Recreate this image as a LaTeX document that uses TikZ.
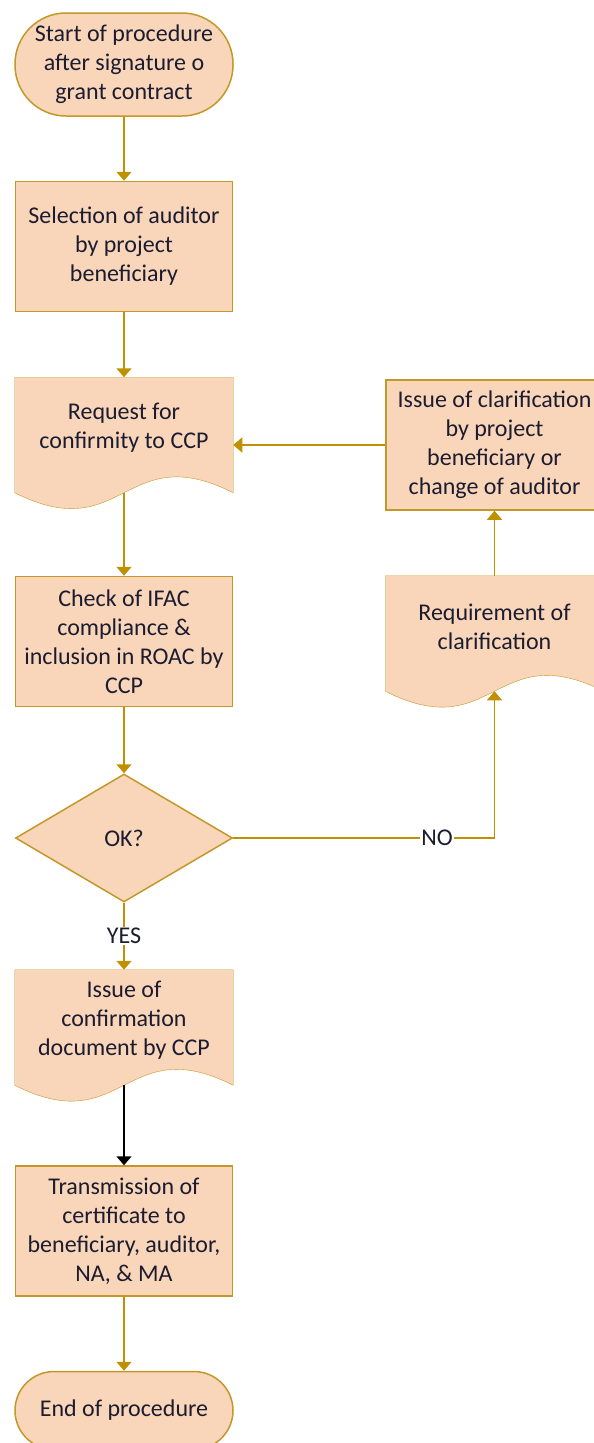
\documentclass[tikz,border=0pt]{standalone}
\usepackage{fontspec}
\setmainfont{Carlito}
\usetikzlibrary{positioning,shapes.geometric,arrows.meta,calc,backgrounds}

\definecolor{boxfill}{RGB}{249,214,186}
\definecolor{boxline}{RGB}{196,152,40}
\definecolor{flowline}{RGB}{191,144,0}
\definecolor{boxtext}{RGB}{28,28,48}

% document shape drawn behind a text node, wavy bottom edge
\newcommand{\docshape}[1]{%
	\begin{scope}[on background layer]
	\path[docline] (#1.north west) -- (#1.north east) -- ($(#1.south east)+(0,-14)$)
		.. controls ($(#1.south)+(0,41)$) and ($(#1.south)+(0,-69)$) .. ($(#1.south west)+(0,-14)$) -- cycle;
	\end{scope}
	\coordinate (#1-b) at ($(#1.south)+(0,-14)$);%
}

\begin{document}
\begin{tikzpicture}[%
	x=1pt, y=1pt,
	every text node part/.style={align=center},
	font=\fontsize{24}{29}\selectfont,
	line width=1.5pt,
	>={Triangle[width=15pt,length=9pt]},
	term/.style={%
		rectangle,
		fill=boxfill,
		draw=boxline,
		minimum width=218pt,
		text=boxtext,
		inner sep=0pt
	},
	proc/.style={%
		rectangle,
		fill=boxfill,
		draw=boxline,
		minimum width=217pt,
		minimum height=130pt,
		text=boxtext,
		inner sep=0pt
	},
	doc/.style={%
		rectangle,
		minimum width=217pt,
		minimum height=100pt,
		text=boxtext,
		inner sep=0pt
	},
	docline/.style={%
		fill=boxfill,
		draw=boxline
	},
	dec/.style={%
		diamond,
		fill=boxfill,
		draw=boxline,
		minimum width=217pt,
		minimum height=128pt,
		text=boxtext,
		inner sep=0pt
	},
	flow/.style={->, draw=flowline},
	lbl/.style={fill=white, text=boxtext, inner sep=1pt}
	]

	\useasboundingbox (0,0) rectangle (594,-1443);

	\node[term, minimum height=103pt, rounded corners=51pt] (start) at (124,-64.5) {Start of procedure\\after signature o\\grant contract};
	\node[proc] (select) [below=64pt of start] {Selection of auditor\\by project\\beneficiary};
	\node[doc] (request) [below=65pt of select] {Request for\\confirmity to CCP};
	\docshape{request}
	\node[proc] (check) [below=97pt of request] {Check of IFAC\\compliance \&\\inclusion in ROAC by\\CCP};
	\node[dec] (ok) [below=66pt of check] {OK?};
	\node[doc] (confirm) [below=67pt of ok] {Issue of\\confirmation\\document by CCP};
	\docshape{confirm}
	\node[proc] (transmit) [below=94pt of confirm] {Transmission of\\certificate to\\beneficiary, auditor,\\NA, \& MA};
	\node[term, minimum height=78pt, rounded corners=39pt] (stop) [below=74pt of transmit] {End of procedure};

	\node[proc] (clarify) [right=152pt of request, yshift=-17pt] {Issue of clarification\\by project\\beneficiary or\\change of auditor};
	\node[doc] (require) [below=65pt of clarify] {Requirement of\\clarification};
	\docshape{require}

	\draw[flow] (start) -- (select);
	\draw[flow] (select) -- (request);
	\draw[flow] (request-b) -- (check);
	\draw[flow] (check) -- (ok);
	\draw[flow] (ok) -- node[lbl] (yes) {YES} (confirm);
	\draw[->, draw=black] (confirm-b) -- (transmit);
	\draw[flow] (transmit) -- (stop);
	\draw[flow] (ok.east) -| node[lbl, pos=0.39] (no) {NO} (require-b);
	\draw[flow] (require) -- (clarify);
	\draw[flow] (clarify.west) -- (clarify.west -| request.east);
\end{tikzpicture}
\end{document}
